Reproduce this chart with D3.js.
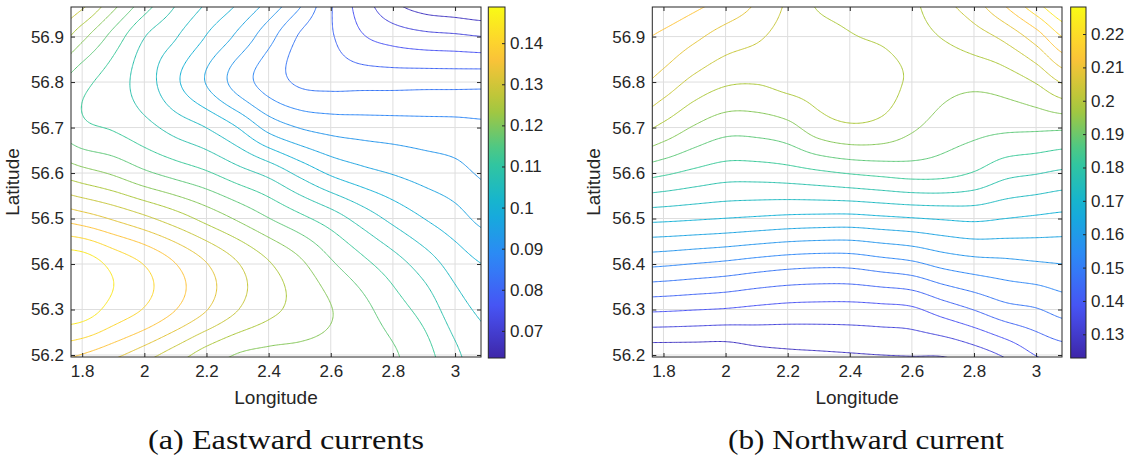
<!DOCTYPE html>
<html><head><meta charset="utf-8">
<script src="https://cdn.jsdelivr.net/npm/d3@7"></script>
<style>body{margin:0;background:#fff}svg{display:block}</style>
</head><body>
<svg id="fig" width="1129" height="462"></svg>
<script>
// Sampled surface-current fields on a lon/lat grid (rows run north to south)
const lonNodes = [1.7,1.8,1.9,2.0,2.1,2.2,2.3,2.4,2.5,2.6,2.7,2.8,2.9,3.0,3.1];
const latNodes = [57.0,56.9,56.8,56.7,56.6,56.5,56.4,56.3,56.2,56.1];

const eastward = [
  [0.1358,0.1321,0.1240,0.1163,0.1094,0.1049,0.1012,0.0965,0.0902,0.0801,0.0732,0.0667,0.0634,0.0622,0.0610],
  [0.1281,0.1215,0.1148,0.1083,0.1044,0.0998,0.0951,0.0893,0.0833,0.0801,0.0760,0.0739,0.0727,0.0722,0.0715],
  [0.1175,0.1134,0.1102,0.1061,0.1008,0.0957,0.0902,0.0860,0.0831,0.0825,0.0824,0.0823,0.0824,0.0824,0.0825],
  [0.1163,0.1130,0.1118,0.1095,0.1066,0.1040,0.1000,0.0946,0.0917,0.0904,0.0899,0.0896,0.0893,0.0891,0.0886],
  [0.1240,0.1218,0.1198,0.1170,0.1148,0.1127,0.1098,0.1070,0.1030,0.0994,0.0972,0.0957,0.0943,0.0931,0.0912],
  [0.1362,0.1345,0.1321,0.1294,0.1264,0.1231,0.1198,0.1164,0.1133,0.1102,0.1065,0.1030,0.1000,0.0975,0.0947],
  [0.1478,0.1472,0.1436,0.1405,0.1367,0.1327,0.1287,0.1248,0.1212,0.1169,0.1134,0.1100,0.1063,0.1024,0.0998],
  [0.1476,0.1468,0.1433,0.1404,0.1367,0.1327,0.1286,0.1254,0.1232,0.1205,0.1175,0.1141,0.1107,0.1059,0.1031],
  [0.1382,0.1364,0.1336,0.1302,0.1264,0.1226,0.1201,0.1193,0.1191,0.1187,0.1179,0.1167,0.1138,0.1090,0.1053],
  [0.1293,0.1256,0.1216,0.1191,0.1175,0.1171,0.1169,0.1169,0.1169,0.1167,0.1163,0.1159,0.1146,0.1106,0.1069]
];

const northward = [
  [0.2186,0.2176,0.2156,0.2131,0.2086,0.2026,0.1966,0.1958,0.1960,0.1973,0.2026,0.2076,0.2161,0.2251,0.2321],
  [0.2141,0.2121,0.2091,0.2059,0.2038,0.2011,0.1998,0.1983,0.1976,0.1968,0.1983,0.2009,0.2044,0.2106,0.2191],
  [0.2096,0.2060,0.2016,0.1988,0.1984,0.1996,0.1998,0.2001,0.1996,0.1973,0.1948,0.1941,0.1953,0.1984,0.2041],
  [0.2006,0.1967,0.1925,0.1899,0.1900,0.1915,0.1956,0.1973,0.1966,0.1938,0.1908,0.1896,0.1890,0.1889,0.1888],
  [0.1855,0.1838,0.1818,0.1803,0.1803,0.1809,0.1821,0.1833,0.1842,0.1849,0.1845,0.1827,0.1795,0.1783,0.1770],
  [0.1695,0.1691,0.1685,0.1679,0.1673,0.1667,0.1664,0.1663,0.1670,0.1677,0.1684,0.1689,0.1680,0.1672,0.1665],
  [0.1543,0.1537,0.1528,0.1519,0.1507,0.1497,0.1492,0.1493,0.1506,0.1519,0.1544,0.1559,0.1566,0.1574,0.1580],
  [0.1389,0.1386,0.1381,0.1376,0.1368,0.1362,0.1360,0.1360,0.1364,0.1371,0.1402,0.1431,0.1462,0.1476,0.1500],
  [0.1238,0.1238,0.1238,0.1238,0.1255,0.1264,0.1269,0.1274,0.1279,0.1282,0.1283,0.1304,0.1336,0.1381,0.1404],
  [0.1084,0.1084,0.1084,0.1089,0.1104,0.1119,0.1129,0.1139,0.1154,0.1169,0.1189,0.1214,0.1244,0.1294,0.1324]
];

const eastRange = [0.0634, 0.1488];
const northRange = [0.1229, 0.2281];
const eastTicks = [0.07,0.08,0.09,0.10,0.11,0.12,0.13,0.14];
const northTicks = [0.13,0.14,0.15,0.16,0.17,0.18,0.19,0.20,0.21,0.22];
const lonTicks = [1.8,2.0,2.2,2.4,2.6,2.8,3.0];
const latTicks = [56.2,56.3,56.4,56.5,56.6,56.7,56.8,56.9];
const lonExtent = [1.764, 3.0835];
const latExtent = [56.1956, 56.965];
const levelCount = 20;
const captions = ["(a) Eastward currents", "(b) Northward current"];

// parula colour map key stops
const parulaStops = [[0.2422,0.1504,0.6603],[0.2810,0.3228,0.9579],[0.1786,0.5289,0.9682],
  [0.0689,0.6948,0.8394],[0.2161,0.7843,0.5923],[0.6720,0.7793,0.2227],[0.9970,0.7659,0.2199],[0.9769,0.9839,0.0805]];
const parula = d3.piecewise(d3.interpolateRgb, parulaStops.map(c => d3.rgb(c[0]*255, c[1]*255, c[2]*255)));

const svg = d3.select('#fig');
svg.append('rect').attr('width', 1129).attr('height', 462).attr('fill', '#fff');
const defs = svg.append('defs');
const ink = '#262626';
const sans = 'Liberation Sans, Arial, Helvetica, sans-serif';

// Smooth Catmull-Rom evaluation of a coarse grid
function catmull(p0, p1, p2, p3, t) {
  return 0.5 * (2*p1 + (-p0 + p2)*t + (2*p0 - 5*p1 + 4*p2 - p3)*t*t + (-p0 + 3*p1 - 3*p2 + p3)*t*t*t);
}
function makeSampler(grid) {
  const nr = grid.length, nc = grid[0].length;
  const fu = d3.scaleLinear().domain([lonNodes[0], lonNodes[nc-1]]).range([0, nc-1]);
  const fv = d3.scaleLinear().domain([latNodes[0], latNodes[nr-1]]).range([0, nr-1]);
  const g = (r, c) => grid[Math.max(0, Math.min(nr-1, r))][Math.max(0, Math.min(nc-1, c))];
  return (lon, lat) => {
    const u = fu(lon), v = fv(lat);
    const c = Math.max(0, Math.min(nc-2, Math.floor(u)));
    const r = Math.max(0, Math.min(nr-2, Math.floor(v)));
    const tu = u - c, tv = v - r;
    const rows = [-1, 0, 1, 2].map(d => catmull(g(r+d, c-1), g(r+d, c), g(r+d, c+1), g(r+d, c+2), tu));
    return catmull(rows[0], rows[1], rows[2], rows[3], tv);
  };
}

const panels = [
  {grid: eastward, range: eastRange, ticks: eastTicks, caption: captions[0], left: 71, right: 481, cbLeft: 488.3, cbRight: 505},
  {grid: northward, range: northRange, ticks: northTicks, caption: captions[1], left: 652.3, right: 1062, cbLeft: 1070.7, cbRight: 1086}
];
const plotTop = 7, plotBottom = 357;
const fmt = d3.format('~g');

panels.forEach((p, pi) => {
  const x = d3.scaleLinear().domain(lonExtent).range([p.left, p.right]);
  const y = d3.scaleLinear().domain(latExtent).range([plotBottom, plotTop]);
  const g = svg.append('g');

  // grid lines
  g.append('g').selectAll('line').data(lonTicks).join('line')
    .attr('x1', d => x(d)).attr('x2', d => x(d)).attr('y1', plotTop).attr('y2', plotBottom)
    .attr('stroke', '#dedede').attr('stroke-width', 1);
  g.append('g').selectAll('line').data(latTicks).join('line')
    .attr('y1', d => y(d)).attr('y2', d => y(d)).attr('x1', p.left).attr('x2', p.right)
    .attr('stroke', '#dedede').attr('stroke-width', 1);

  // fine sampling of the field, one sample beyond each plot edge
  const nx = 330, ny = 290;
  const sample = makeSampler(p.grid);
  const lonAt = d3.scaleLinear().domain([1, nx-2]).range(lonExtent);
  const latAt = d3.scaleLinear().domain([1, ny-2]).range([latExtent[1], latExtent[0]]);
  const values = new Float64Array(nx * ny);
  for (let j = 0; j < ny; j++) for (let i = 0; i < nx; i++) values[j*nx + i] = sample(lonAt(i), latAt(j));

  const levels = d3.range(1, levelCount + 1).map(k => p.range[0] + k * (p.range[1] - p.range[0]) / (levelCount + 1));
  const color = d3.scaleSequential(parula).domain(p.range);
  const contours = d3.contours().size([nx, ny]).thresholds(levels)(Array.from(values));

  const clipId = 'clip' + pi;
  defs.append('clipPath').attr('id', clipId).append('rect')
    .attr('x', p.left).attr('y', plotTop).attr('width', p.right - p.left).attr('height', plotBottom - plotTop);
  const proj = d3.geoTransform({point(cx, cy) { this.stream.point(x(lonAt(cx - 0.5)), y(latAt(cy - 0.5))); }});
  const path = d3.geoPath(proj);
  g.append('g').attr('clip-path', `url(#${clipId})`).selectAll('path').data(contours).join('path')
    .attr('d', path).attr('fill', 'none').attr('stroke', d => color(d.value)).attr('stroke-width', 1);

  // axes with inward ticks on all four sides
  const ax = g.append('g').attr('font-family', sans);
  ax.append('g').attr('transform', `translate(0,${plotBottom})`)
    .call(d3.axisBottom(x).tickValues(lonTicks).tickFormat(fmt).tickSizeInner(-4).tickSizeOuter(0).tickPadding(8));
  ax.append('g').attr('transform', `translate(0,${plotTop})`)
    .call(d3.axisTop(x).tickValues(lonTicks).tickFormat('').tickSizeInner(-4).tickSizeOuter(0));
  ax.append('g').attr('transform', `translate(${p.left},0)`)
    .call(d3.axisLeft(y).tickValues(latTicks).tickFormat(fmt).tickSizeInner(-4).tickSizeOuter(0).tickPadding(7));
  ax.append('g').attr('transform', `translate(${p.right},0)`)
    .call(d3.axisRight(y).tickValues(latTicks).tickFormat('').tickSizeInner(-4).tickSizeOuter(0));
  ax.selectAll('.domain').remove();
  ax.selectAll('.tick line').attr('stroke', ink);
  ax.selectAll('.tick text').attr('fill', ink).attr('font-size', 17);
  g.append('rect').attr('x', p.left).attr('y', plotTop).attr('width', p.right - p.left).attr('height', plotBottom - plotTop)
    .attr('fill', 'none').attr('stroke', ink).attr('stroke-width', 1);

  g.append('text').attr('x', (p.left + p.right) / 2).attr('y', 404).attr('text-anchor', 'middle')
    .attr('font-family', sans).attr('font-size', 19).attr('fill', ink).text('Longitude');
  g.append('text').attr('transform', `translate(${p.left - 52},${(plotTop + plotBottom) / 2}) rotate(-90)`)
    .attr('text-anchor', 'middle').attr('font-family', sans).attr('font-size', 19).attr('fill', ink).text('Latitude');

  // colour bar
  const cbTop = 7, cbBottom = 358;
  const gradId = 'grad' + pi;
  const grad = defs.append('linearGradient').attr('id', gradId).attr('x1', 0).attr('x2', 0).attr('y1', 1).attr('y2', 0);
  d3.range(0, 1.0001, 0.05).forEach(t => grad.append('stop').attr('offset', t).attr('stop-color', parula(t)));
  g.append('rect').attr('x', p.cbLeft).attr('y', cbTop).attr('width', p.cbRight - p.cbLeft).attr('height', cbBottom - cbTop)
    .attr('fill', `url(#${gradId})`).attr('stroke', ink).attr('stroke-width', 1);
  const cy = d3.scaleLinear().domain(p.range).range([cbBottom, cbTop]);
  const cax = g.append('g').attr('transform', `translate(${p.cbRight},0)`).attr('font-family', sans)
    .call(d3.axisRight(cy).tickValues(p.ticks).tickFormat(fmt).tickSizeInner(-3).tickSizeOuter(0).tickPadding(5));
  cax.select('.domain').remove();
  cax.selectAll('.tick line').attr('stroke', ink);
  cax.selectAll('.tick text').attr('fill', ink).attr('font-size', 17);

  svg.append('text').attr('x', pi === 0 ? 286 : 866).attr('y', 449).attr('text-anchor', 'middle')
    .attr('font-family', 'Liberation Serif, Times New Roman, serif').attr('font-size', 27).attr('fill', '#111')
    .attr('textLength', 276).attr('lengthAdjust', 'spacingAndGlyphs').text(p.caption);
});
</script>
</body></html>
